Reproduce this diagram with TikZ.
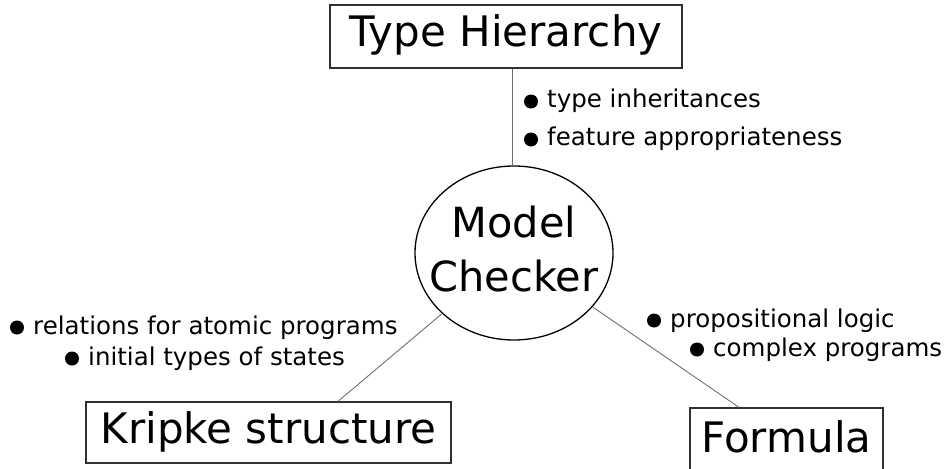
\documentclass[tikz,border=0pt]{standalone}
\usepackage{fontspec}
\setmainfont{DejaVu Sans}
\usetikzlibrary{shapes.geometric}
\definecolor{boxline}{HTML}{303030}
\definecolor{linkgray}{HTML}{707070}
\begin{document}
\begin{tikzpicture}[x=1pt,y=-1pt,
  titlebox/.style={draw=boxline, line width=1.3pt, inner sep=0pt,
    font=\fontsize{42}{50}\selectfont, text height=31pt, text depth=10pt},
  hub/.style={ellipse, draw=black, line width=1.3pt, inner xsep=-15pt, inner ysep=0pt,
    minimum width=198pt, minimum height=174pt, align=center,
    font=\fontsize{41.5}{54}\selectfont, text depth=9pt},
  note/.style={anchor=base west, inner sep=0pt, font=\fontsize{24.5}{28}\selectfont},
  link/.style={draw=linkgray, line width=0.9pt},
  dot/.style={fill=black}]
\useasboundingbox (0,0) rectangle (944,468);

% central model checker
\node[hub] (mc) at (514,253) {Model\\Checker};

% the three inputs
\node[titlebox, minimum width=352pt, minimum height=63pt] (th) at (506,36.5) {Type Hierarchy};
\node[titlebox, minimum width=365pt, minimum height=61pt] (kb) at (268.5,432.5) {Kripke structure};
\node[titlebox, minimum width=193pt, minimum height=67pt] (fm) at (786.5,441.5) {Formula};

% connectors
\draw[link] ([xshift=6pt]th.south) -- ([xshift=6pt]th.south |- mc.north);
\draw[link] ([xshift=69.5pt]kb.north) -- (mc);
\draw[link] ([xshift=-47.5pt]fm.north) -- (mc);

% annotations
\node[note] (t1) at (547,108) {type inheritances};
\node[note] (t2) at (547,146) {feature appropriateness};
\node[note] (k1) at (33,334) {relations for atomic programs};
\node[note] (k2) at (88,365) {initial types of states};
\node[note] (f1) at (670,327) {propositional logic};
\node[note] (f2) at (713,356) {complex programs};

\foreach \t in {t1,t2,k1,k2,f1,f2}
  \fill[dot] ([xshift=-16pt,yshift=6.5pt]\t.base west) circle (7pt);
\end{tikzpicture}
\end{document}
